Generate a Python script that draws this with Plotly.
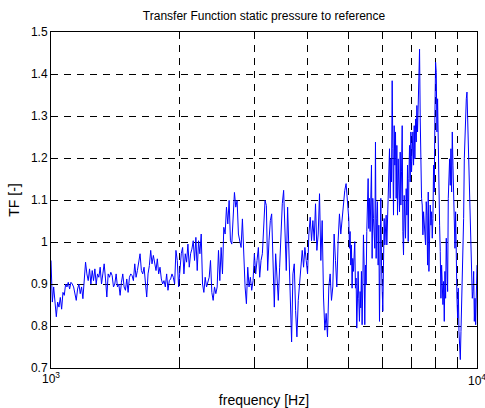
import numpy as np
import plotly.graph_objects as go

# Transfer function magnitude, ordered by frequency.
# Segment 1: 1000 Hz up to (not including) 5000 Hz
tf_low = [
    0.956, 0.857, 0.893, 0.865, 0.822, 0.857, 0.845, 0.868, 0.840, 0.880,
    0.873, 0.900, 0.893, 0.904, 0.888, 0.904, 0.900, 0.893, 0.880, 0.861,
    0.888, 0.900, 0.877, 0.893, 0.865, 0.912, 0.952, 0.924, 0.908, 0.936,
    0.900, 0.932, 0.908, 0.936, 0.900, 0.924, 0.916, 0.940, 0.900, 0.924,
    0.948, 0.912, 0.869, 0.924, 0.916, 0.928, 0.920, 0.893, 0.900, 0.924,
    0.893, 0.900, 0.873, 0.904, 0.924, 0.893, 0.885, 0.912, 0.880, 0.916,
    0.924, 0.920, 0.908, 0.948, 0.916, 0.932, 0.956, 0.972, 0.932, 0.924,
    0.940, 0.904, 0.869, 0.924, 0.944, 0.980, 0.948, 0.968, 0.952, 0.932,
    0.960, 0.924, 0.940, 0.912, 0.900, 0.908, 0.893, 0.924, 0.885, 0.908,
    0.912, 0.924, 0.916, 0.900, 0.980, 0.956, 0.893, 0.944, 0.972, 0.987,
    0.924, 0.972, 0.952, 0.995, 0.940, 0.972, 0.983, 1.003, 0.956, 1.011,
    0.932, 1.003, 0.972, 1.019, 0.900, 0.880, 0.916, 0.893, 0.908, 0.916,
    0.956, 0.880, 0.861, 0.893, 0.877, 0.893, 0.980, 0.908, 0.987, 0.924,
    1.035, 1.019, 1.083, 1.043, 1.099, 1.003, 0.995, 1.059, 1.118, 1.083,
    1.099, 1.019, 0.999,
    0.987, 1.055, 0.972, 0.893, 0.853, 0.940, 0.893, 0.916, 0.885, 0.908,
    0.972, 0.924, 0.956, 0.987, 0.916, 0.956, 0.972, 1.035, 1.099, 1.087,
    0.932, 1.003, 1.051, 1.067, 0.972, 0.845, 0.972, 0.916, 0.861, 0.940,
    1.019, 1.091, 1.123, 1.043, 0.932, 1.083, 0.987, 0.893, 0.762, 0.924,
    0.948, 0.837, 0.774, 0.861, 0.900, 0.940, 0.980, 0.940, 0.987, 0.956,
    0.924, 1.019, 1.059, 1.003, 1.051, 1.003, 1.091, 0.980, 1.019, 1.115,
    0.956, 1.051, 0.869, 0.790, 0.830, 0.774, 0.893, 0.924, 0.861, 0.893,
    1.019, 0.956, 0.893, 1.003, 1.067, 1.019, 1.051, 1.099, 1.123, 1.139,
    1.083,
]
# Segment 2: 5000 Hz to 10000 Hz (denser trace in the reference)
tf_high = [
    1.056, 0.985, 1.025, 0.945, 0.993, 0.890, 0.961, 0.930, 0.977, 1.001,
    0.890, 0.914, 0.795, 0.898, 0.930, 0.866, 0.811, 0.882, 0.843, 0.930,
    0.803, 0.898, 1.017, 0.945, 0.803, 0.945, 0.898, 1.025, 1.088, 1.151,
    1.032, 1.104, 1.025, 1.119, 1.183, 0.961, 1.104, 1.056, 0.993, 0.985,
    1.238, 0.961, 1.056, 1.096, 0.945, 1.040, 0.811, 0.993, 1.104, 0.945,
    0.882, 0.835, 0.945, 1.056, 0.993, 1.025, 1.064, 0.993, 1.056, 1.119,
    1.167, 1.222, 1.104, 1.198, 1.143, 1.384, 1.222, 1.064, 1.277, 1.183,
    1.262, 1.104, 1.230, 1.064, 1.198, 1.151, 1.072, 1.214, 1.088, 1.167,
    1.277, 1.025, 0.969, 1.111, 1.056, 1.009, 1.127, 1.064, 1.183, 1.001,
    1.151, 1.230, 1.143, 1.262, 1.167, 1.246, 1.262, 1.183, 1.277, 1.198,
    1.293, 1.238, 1.325, 1.262, 1.357, 1.436, 1.459, 1.293, 1.183, 1.104,
    1.088, 1.017, 1.072, 1.048, 1.025, 0.993, 1.096, 1.064, 0.945, 1.119,
    0.930, 1.025, 1.088, 1.040, 1.072, 1.009, 1.056, 1.183, 1.119, 1.301,
    1.428, 1.404, 1.262, 1.341, 1.198, 1.135, 1.040, 0.977, 0.866, 0.945,
    0.882, 0.851, 0.906, 0.811, 0.930, 0.866, 1.009, 0.953, 0.882, 1.104,
    1.167, 1.198, 1.135, 1.222, 1.119, 1.262, 1.183, 1.104, 1.056, 0.985,
    1.072, 0.930, 0.866, 0.819, 0.890, 0.787, 0.740, 0.720, 0.787, 0.851,
    0.945, 0.993, 1.056, 1.198, 1.262, 1.325, 1.341, 1.357, 1.293, 1.238,
    1.143, 1.056, 1.025, 0.961, 0.906, 0.866, 0.882, 0.930, 0.811, 0.866,
    0.803, 0.898, 0.945,
]

f_start, f_split, f_end = 1000, 5000, 10000
freq_low = np.geomspace(f_start, f_split, len(tf_low), endpoint=False)
freq_high = np.geomspace(f_split, f_end, len(tf_high))
freq = np.concatenate([freq_low, freq_high])
tf = tf_low + tf_high

x_ticks = [1000, 2000, 3000, 4000, 5000, 6000, 7000, 8000, 9000, 10000]
x_ticktext = ["10<sup>3</sup>", "", "", "", "", "", "", "", "", ""]
y_ticks = [0.7, 0.8, 0.9, 1.0, 1.1, 1.2, 1.3, 1.4, 1.5]
y_ticktext = ["0.7", "0.8", "0.9", "1", "1.1", "1.2", "1.3", "1.4", "1.5"]

fig = go.Figure()
fig.add_trace(go.Scatter(
    x=freq, y=tf, mode="lines",
    line=dict(color="#0000FF", width=1),
    showlegend=False, hoverinfo="skip",
))

font = dict(family="Arial, Liberation Sans, sans-serif", size=12, color="black")

fig.update_layout(
    width=485, height=408,
    margin=dict(l=51, r=8, t=32, b=40, autoexpand=False),
    paper_bgcolor="white", plot_bgcolor="white",
    font=font,
    title=dict(text="Transfer Function static pressure to reference",
               xref="paper", x=0.5, xanchor="center",
               y=0.962, yanchor="middle", font=dict(size=12)),
    xaxis=dict(
        type="log", range=[3, 4], automargin=False,
        tickmode="array", tickvals=x_ticks, ticktext=x_ticktext,
        ticks="inside", ticklen=4, tickcolor="black",
        tickfont=dict(size=12),
        showline=True, linecolor="black", linewidth=1, mirror="ticks",
        showgrid=True, gridcolor="black", gridwidth=1, griddash="7px,6px",
        zeroline=False,
        title=dict(text="frequency [Hz]", standoff=14),
    ),
    yaxis=dict(
        range=[0.7, 1.5], automargin=False,
        tickmode="array", tickvals=y_ticks, ticktext=y_ticktext,
        ticks="inside", ticklen=4, tickcolor="black",
        tickfont=dict(size=12),
        showline=True, linecolor="black", linewidth=1, mirror="ticks",
        showgrid=True, gridcolor="black", gridwidth=1, griddash="7px,6px",
        zeroline=False,
        title=dict(text="TF [-]", standoff=8),
    ),
    annotations=[dict(
        text="10<sup>4</sup>", xref="paper", yref="paper", x=1, y=0,
        xanchor="center", yanchor="top", yshift=-2, showarrow=False,
        font=dict(size=12),
    )],
)

fig.write_html("out.html")
